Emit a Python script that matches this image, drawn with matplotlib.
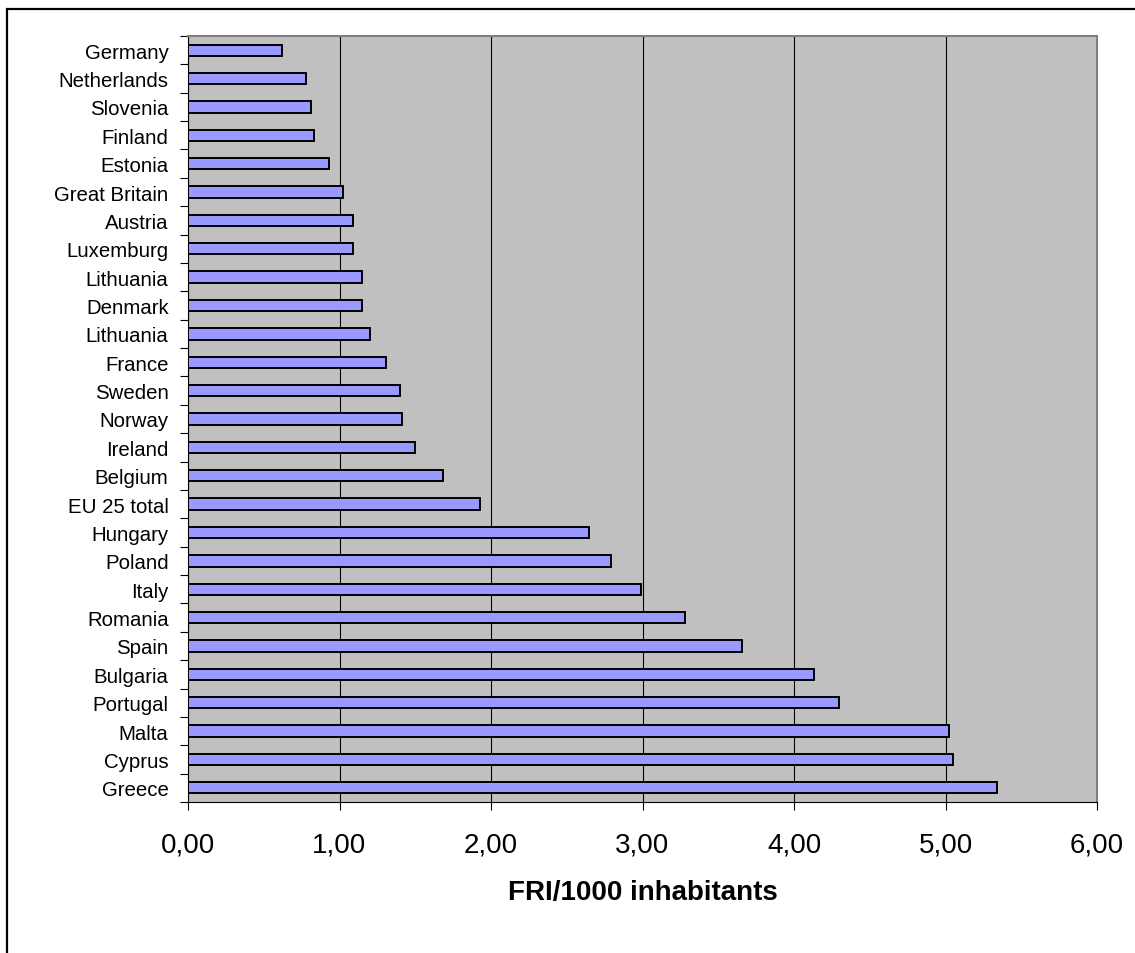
import numpy as np
import matplotlib.pyplot as plt
from matplotlib.patches import Rectangle
from matplotlib.ticker import FuncFormatter

countries = [
    "Germany", "Netherlands", "Slovenia", "Finland", "Estonia", "Great Britain",
    "Austria", "Luxemburg", "Lithuania", "Denmark", "Lithuania", "France",
    "Sweden", "Norway", "Ireland", "Belgium", "EU 25 total", "Hungary",
    "Poland", "Italy", "Romania", "Spain", "Bulgaria", "Portugal", "Malta",
    "Cyprus", "Greece",
]
fri_per_1000 = [
    0.62, 0.78, 0.815, 0.83, 0.93, 1.02,
    1.09, 1.09, 1.15, 1.15, 1.20, 1.31,
    1.40, 1.41, 1.50, 1.68, 1.93, 2.65,
    2.79, 2.99, 3.28, 3.66, 4.13, 4.30, 5.02,
    5.05, 5.34,
]
x_ticks = [0, 1, 2, 3, 4, 5, 6]


def main():
    plt.rcParams["font.family"] = ["Liberation Sans", "DejaVu Sans"]

    fig = plt.figure(figsize=(11.35, 9.54), dpi=100)
    ax = fig.add_axes([188 / 1135, 1 - 803 / 954, (1097 - 188) / 1135, (803 - 37) / 954])

    # outer frame (only top and left edges visible)
    fig.patches.append(Rectangle((7 / 1135, -0.1), 1.2, (954 - 10) / 954 + 0.1,
                                 transform=fig.transFigure, fill=False,
                                 edgecolor="black", linewidth=1.6))

    y = np.arange(len(countries))
    ax.set_facecolor("#c0c0c0")
    ax.barh(y, fri_per_1000, height=0.4, color="#9999ff",
            edgecolor="black", linewidth=1.4, zorder=3)

    ax.set_xlim(0, 6)
    ax.set_ylim(len(countries) - 0.5, -0.5)
    ax.set_xticks(x_ticks)
    ax.xaxis.set_major_formatter(FuncFormatter(lambda v, p: f"{v:.2f}".replace(".", ",")))
    ax.tick_params(axis="x", length=6, width=0.8, pad=15, labelsize=20)
    ax.grid(axis="x", color="black", linewidth=0.8, zorder=1)

    ax.set_yticks(y)
    ax.set_yticklabels(countries, fontsize=14.7)
    ax.set_yticks(np.arange(len(countries) + 1) - 0.5, minor=True)
    ax.tick_params(axis="y", which="major", length=0, pad=14)
    ax.tick_params(axis="y", which="minor", length=6, width=0.8)

    ax.set_xlabel("FRI/1000 inhabitants", fontsize=20, fontweight="bold", labelpad=16)

    for side in ("top", "right"):
        ax.spines[side].set_color("#808080")
        ax.spines[side].set_linewidth(1.5)
    for side in ("left", "bottom"):
        ax.spines[side].set_color("black")
        ax.spines[side].set_linewidth(0.8)

    fig.savefig("out.png", dpi=100, facecolor="white")


if __name__ == "__main__":
    main()
